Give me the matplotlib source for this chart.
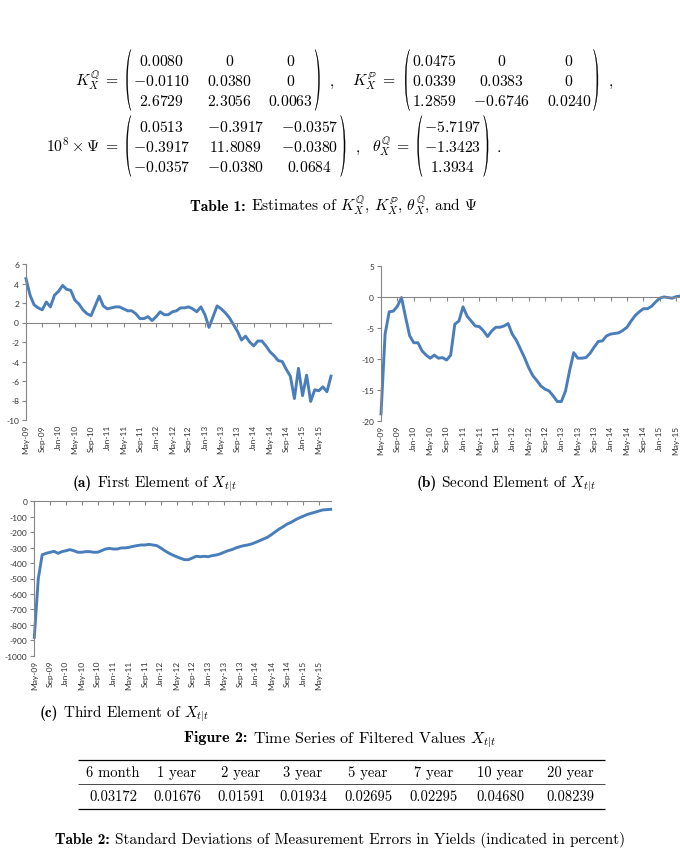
import numpy as np
import pandas as pd
import matplotlib
matplotlib.use("Agg")
import matplotlib.pyplot as plt
from matplotlib.path import Path
from matplotlib.patches import PathPatch

plt.rcParams["mathtext.fontset"] = "cm"
plt.rcParams["axes.unicode_minus"] = False

# ---------------------------------------------------------------------------
# Data
# ---------------------------------------------------------------------------
months = pd.date_range("2009-05-01", "2015-08-01", freq="MS")
tick_pos = np.arange(0, len(months), 4)
tick_labels = [d.strftime("%b-%y") for d in months[::4]]

x_first = [4.5, 2.8, 1.8, 1.5, 1.3, 2.1, 1.6, 2.8, 3.2, 3.8, 3.4, 3.3, 2.3, 1.9, 1.3, 0.9,
           0.7, 1.7, 2.7, 1.7, 1.4, 1.5, 1.6, 1.6, 1.4, 1.2, 1.2, 0.9, 0.4, 0.4, 0.6, 0.2,
           0.6, 1.1, 0.8, 0.8, 1.1, 1.2, 1.5, 1.5, 1.6, 1.4, 1.1, 1.6, 0.8, -0.5, 0.6, 1.7,
           1.4, 1.0, 0.5, -0.2, -0.9, -1.8, -1.4, -2.0, -2.4, -1.9, -1.9, -2.4, -3.0, -3.4,
           -3.9, -4.0, -4.8, -5.5, -7.8, -4.7, -7.5, -5.4, -8.1, -6.9, -7.0, -6.6, -7.1, -5.5]

x_second = [-18.9, -6.0, -2.4, -2.3, -1.5, -0.1, -3.3, -6.3, -7.4, -7.4, -8.7, -9.4, -9.9,
            -9.4, -9.9, -9.8, -10.2, -9.4, -4.4, -3.9, -1.6, -3.1, -3.9, -4.7, -4.8, -5.5,
            -6.4, -5.5, -4.9, -4.9, -4.7, -4.3, -6.0, -7.0, -8.4, -9.8, -11.4, -12.7, -13.5,
            -14.4, -14.9, -15.2, -16.0, -16.9, -16.9, -15.2, -11.9, -9.0, -9.9, -9.9, -9.8,
            -9.1, -8.1, -7.2, -7.1, -6.3, -6.0, -5.9, -5.8, -5.4, -4.9, -3.9, -3.0, -2.4,
            -1.9, -1.9, -1.5, -0.8, -0.2, 0.0, -0.1, -0.2, 0.05, 0.15, 0.2, 0.3]

x_third = [-881, -503, -346, -337, -330, -324, -337, -326, -320, -313, -320, -330, -330,
           -326, -326, -330, -330, -320, -309, -305, -309, -309, -302, -302, -298, -292,
           -287, -283, -283, -279, -283, -287, -302, -320, -335, -348, -359, -369, -378,
           -378, -367, -356, -359, -356, -359, -352, -348, -341, -330, -320, -313, -302,
           -294, -287, -283, -276, -266, -255, -244, -233, -216, -197, -179, -164, -147,
           -136, -121, -108, -97, -86, -78, -71, -63, -56, -54, -52]

K_Q = [["0.0080", "0", "0"],
       ["-0.0110", "0.0380", "0"],
       ["2.6729", "2.3056", "0.0063"]]
K_P = [["0.0475", "0", "0"],
       ["0.0339", "0.0383", "0"],
       ["1.2859", "-0.6746", "0.0240"]]
PSI = [["0.0513", "-0.3917", "-0.0357"],
       ["-0.3917", "11.8089", "-0.0380"],
       ["-0.0357", "-0.0380", "0.0684"]]
THETA_Q = [["-5.7197"], ["-1.3423"], ["1.3934"]]

maturities = ["6 month", "1 year", "2 year", "3 year", "5 year", "7 year", "10 year", "20 year"]
meas_sd = ["0.03172", "0.01676", "0.01591", "0.01934", "0.02695", "0.02295", "0.04680", "0.08239"]

# ---------------------------------------------------------------------------
# Page
# ---------------------------------------------------------------------------
W, H = 680, 854
fig = plt.figure(figsize=(W / 100, H / 100), dpi=100)
page = fig.add_axes([0, 0, 1, 1])
page.set_xlim(0, W)
page.set_ylim(H, 0)
page.axis("off")
renderer = fig.canvas.get_renderer()

FS = 10.5      # table / body text
FS_EQ = 11.3   # display math
ROW_H = 20
CM, CMB = "cmr10", "cmb10"


def width(t):
    return t.get_window_extent(renderer).width


def paren(x_tip, y_mid, h, side, d=6.0, thick=1.1):
    y0, y1 = y_mid - h / 2, y_mid + h / 2
    xo, xi = x_tip + side * d, x_tip + side * (d - thick * 1.33)
    verts = [(x_tip, y0), (xo, y0 + 0.16 * h), (xo, y1 - 0.16 * h), (x_tip, y1),
             (xi, y1 - 0.16 * h), (xi, y0 + 0.16 * h), (x_tip, y0), (x_tip, y0)]
    codes = [Path.MOVETO] + [Path.CURVE4] * 6 + [Path.CLOSEPOLY]
    page.add_patch(PathPatch(Path(verts, codes), fc="black", ec="black", lw=0.25))


def draw_matrix(x_content, y_mid, cells, colsep=16.5):
    """Matrix with its content starting at x_content; returns right edge of ')'."""
    nr, nc = len(cells), len(cells[0])
    txt = [[page.text(0, 0, "$" + v + "$", fontsize=FS_EQ, ha="center", va="baseline")
            for v in row] for row in cells]
    widths = [max(width(txt[i][j]) for i in range(nr)) for j in range(nc)]
    x = x_content
    for j in range(nc):
        xc = x + widths[j] / 2
        for i in range(nr):
            txt[i][j].set_position((xc, y_mid + (i - (nr - 1) / 2) * ROW_H + 4.5))
        x += widths[j] + colsep
    x -= colsep
    paren(x_content - 2, y_mid, 61, -1)
    paren(x + 2, y_mid, 61, +1)
    return x + 8


def eq_text(x, y, s, ha="left"):
    return page.text(x, y + 4.5, s, fontsize=FS_EQ, ha=ha, va="baseline")


def caption(xc, y, bold, rest, fs):
    b = page.text(0, y, bold, fontsize=fs, family=CMB, va="baseline")
    r = page.text(0, y, rest, fontsize=fs, family=CM, va="baseline")
    gap = fs * 0.45
    total = width(b) + gap + width(r)
    x = xc - total / 2
    b.set_x(x)
    r.set_x(x + width(b) + gap)


# row 1
y1 = 81
eq_text(119, y1, r"$K_X^{\mathbb{Q}}\;=$", ha="right")
xr = draw_matrix(133, y1, K_Q)
page.text(xr + 9, y1 + 4.5, ",", fontsize=FS_EQ, family=CM, va="baseline")
lab = eq_text(352, y1, r"$K_X^{\mathbb{P}}\;=$")
xr = draw_matrix(352 + width(lab) + 16, y1, K_P)
page.text(xr + 9, y1 + 4.5, ",", fontsize=FS_EQ, family=CM, va="baseline")

# row 2
y2 = 147
eq_text(119, y2, r"$10^8\times\Psi\;=$", ha="right")
xr = draw_matrix(133, y2, PSI)
page.text(xr + 9, y2 + 4.5, ",", fontsize=FS_EQ, family=CM, va="baseline")
lab = eq_text(372, y2, r"$\theta_X^{\mathbb{Q}}\;=$")
xr = draw_matrix(372 + width(lab) + 14, y2, THETA_Q)
page.text(xr + 7, y2 + 4.5, ".", fontsize=FS_EQ, family=CM, va="baseline")

caption(334, 211, "Table 1:", r"Estimates of $K_X^{\mathbb{Q}}$, $K_X^{\mathbb{P}}$, "
        r"$\theta_X^{\mathbb{Q}}$, and $\Psi$", 11.2)

# ---------------------------------------------------------------------------
# Charts (Excel style)
# ---------------------------------------------------------------------------
LINE = "#4A7EBB"
GRAY = "#868686"


def excel_chart(rect, y, ylim, ystep):
    ax = fig.add_axes(rect)
    xs = np.arange(len(y))
    ax.plot(xs, y, color=LINE, lw=2.1, solid_joinstyle="round", clip_on=False)
    ax.set_xlim(0, len(y) - 1)
    ax.set_ylim(*ylim)
    ax.set_yticks(np.arange(ylim[0], ylim[1] + ystep / 2, ystep))
    ax.spines[["top", "right"]].set_visible(False)
    ax.spines["left"].set_color(GRAY)
    ax.spines["bottom"].set_position(("data", 0))
    ax.spines["bottom"].set_color(GRAY)
    ax.set_xticks(tick_pos)
    ax.tick_params(axis="x", direction="out", length=3, width=0.8, color=GRAY,
                   labelbottom=False)
    ax.tick_params(axis="y", direction="out", length=3, width=0.8, color=GRAY,
                   labelsize=6, labelcolor="#333333", pad=2)
    for lbl in ax.get_yticklabels():
        lbl.set_family("Lato")
    sec = ax.secondary_xaxis("bottom")
    sec.set_xticks(tick_pos, tick_labels, rotation=90, family="Lato")
    sec.tick_params(length=0, labelsize=6, labelcolor="#333333", pad=3)
    sec.spines["bottom"].set_visible(False)
    ax.patch.set_alpha(0)
    return ax


excel_chart([26 / W, 1 - 421 / H, 305 / W, 156 / H], x_first, (-10, 6), 2)
excel_chart([381 / W, 1 - 421.7 / H, 307.5 / W, 154.7 / H], x_second, (-20, 5), 5)
excel_chart([34.3 / W, 1 - 656.7 / H, 296.4 / W, 154.4 / H], x_third, (-1000, 0), 100)

caption(155, 487, "(a)", r"First Element of $X_{t|t}$", 11)
caption(506, 487, "(b)", r"Second Element of $X_{t|t}$", 11)
caption(124, 717, "(c)", r"Third Element of $X_{t|t}$", 11)
caption(340, 742, "Figure 2:", r"Time Series of Filtered Values $X_{t|t}$", 11.5)

# ---------------------------------------------------------------------------
# Table 2
# ---------------------------------------------------------------------------
col_x = [113, 177, 241, 303, 368, 434, 500, 570]
page.hlines([761], 78, 605, color="black", lw=0.9)
page.hlines([785], 78, 605, color="black", lw=0.5)
page.hlines([810], 78, 605, color="black", lw=0.9)
for cx, m, v in zip(col_x, maturities, meas_sd):
    page.text(cx, 777, m, fontsize=FS, family=CM, ha="center", va="baseline")
    page.text(cx, 801, v, fontsize=FS, family=CM, ha="center", va="baseline")
caption(340, 844, "Table 2:", "Standard Deviations of Measurement Errors in Yields "
        "(indicated in percent)", 11)

fig.savefig("out.png", dpi=100)
